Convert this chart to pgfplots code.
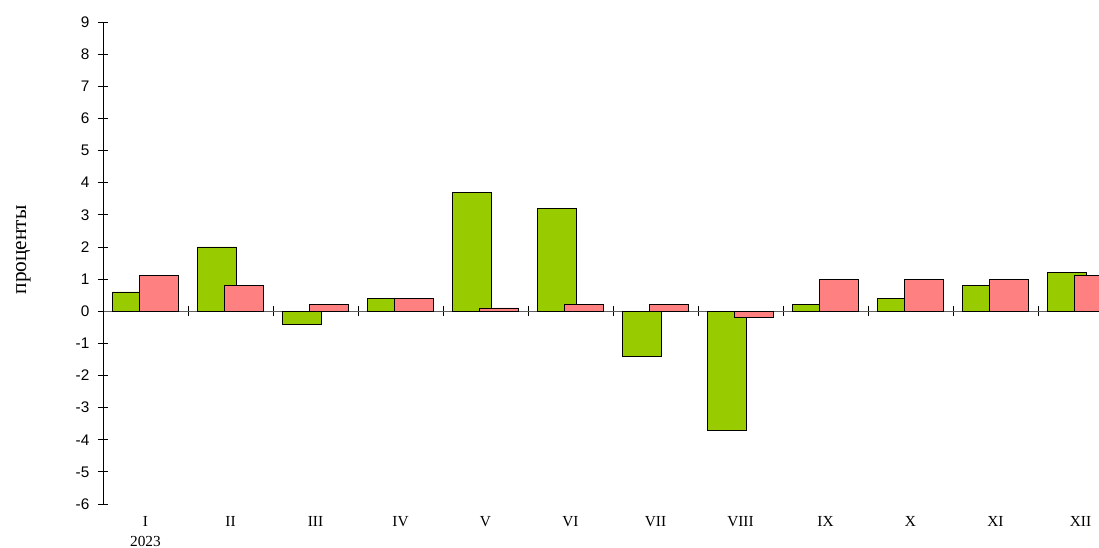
\documentclass[border=0pt]{standalone}
\usepackage{fontspec}
\setmainfont{Liberation Serif}
\newfontfamily\arial{Liberation Sans}
\usepackage{pgfplots}
\pgfplotsset{compat=1.18}

\definecolor{barGreen}{HTML}{99CC00}
\definecolor{barPink}{HTML}{FF8080}

% 1 px of the reference = 0.75pt
\pgfplotsset{
  monthframe/.style={
    scale only axis, width=747pt, height=361.5pt,
    xmin=-0.5, xmax=11.2176, ymin=-6, ymax=9,
    at={(0,0)}, anchor=south west,
  },
}

\begin{document}
\begin{tikzpicture}
\begin{axis}[monthframe,
  axis x line=middle, axis y line=left,
  axis line style={-, line width=0.6pt},
  x axis line style={gray!75!black},
  ytick={-6,...,9},
  xtick={0.5,1.5,...,10.5}, xticklabels={},
  xtick align=center, ytick align=center, major tick length=7.5pt,
  tick style={black, line width=0.6pt},
  major x tick style={yshift=3.75pt},
  yticklabel style={font=\arial\fontsize{11.5}{13}\selectfont, xshift=-3pt},
  /pgf/number format/assume math mode=true,
  ylabel={проценты},
  ylabel style={font=\fontsize{16}{18}\selectfont, at={(axis description cs:-0.08,0.527)}, anchor=center},
  ybar, bar width=0.459,
  every axis plot/.append style={draw=black, line width=0.6pt},
]
\addplot[fill=barGreen, bar shift=-0.159] coordinates {
  (0,0.6) (1,2.0) (2,-0.4) (3,0.4) (4,3.7) (5,3.2)
  (6,-1.4) (7,-3.7) (8,0.2) (9,0.4) (10,0.8) (11,1.2)
};
\addplot[fill=barPink, bar shift=0.159] coordinates {
  (0,1.1) (1,0.8) (2,0.2) (3,0.4) (4,0.1) (5,0.2)
  (6,0.2) (7,-0.2) (8,1.0) (9,1.0) (10,1.0) (11,1.1)
};
\end{axis}
% month labels along the bottom
\begin{axis}[monthframe,
  axis x line=bottom, axis y line=none,
  x axis line style={draw=none},
  xtick={0,...,11}, major tick length=0pt,
  xticklabels={{I\\2023},II,III,IV,V,VI,VII,VIII,IX,X,XI,XII},
  xticklabel style={font=\fontsize{11.5}{15}\selectfont, align=center, anchor=north, yshift=-6pt},
]
\end{axis}
\pgfresetboundingbox
\path[use as bounding box] (-77.25pt,-33pt) rectangle (747pt,378pt);
\end{tikzpicture}
\end{document}
